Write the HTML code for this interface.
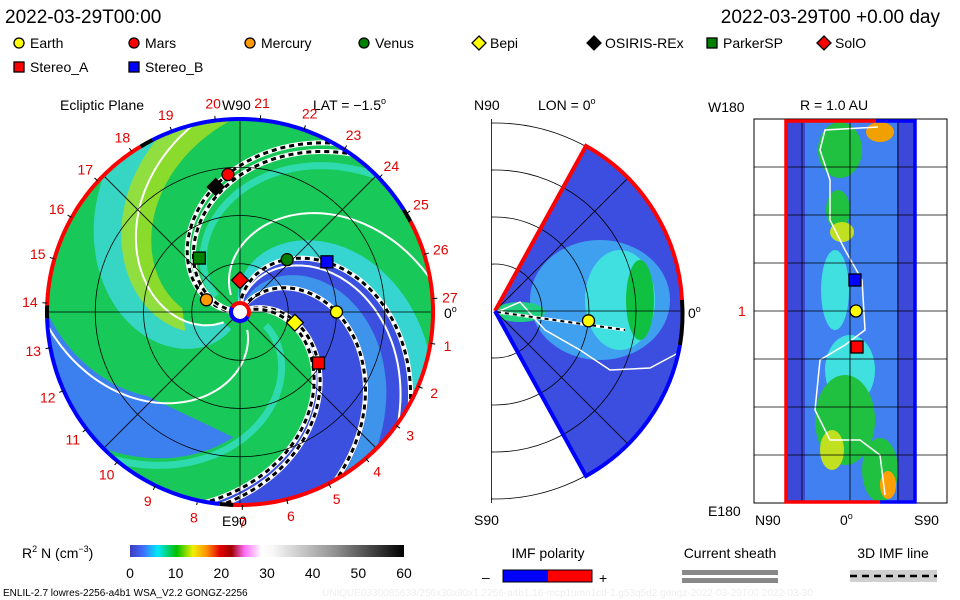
<!DOCTYPE html>
<html><head><meta charset="utf-8"><style>
body{margin:0;background:#fff;}
svg{display:block;font-family:"Liberation Sans",sans-serif;}
</style></head><body>
<svg id="s" width="960" height="600" viewBox="0 0 960 600">
<defs>
<linearGradient id="cb" x1="0" x2="1" y1="0" y2="0">
<stop offset="0" stop-color="#3c3cc0"/><stop offset="0.05" stop-color="#4070ff"/>
<stop offset="0.1" stop-color="#00e8ff"/><stop offset="0.17" stop-color="#00c000"/>
<stop offset="0.23" stop-color="#f0f000"/><stop offset="0.28" stop-color="#ff9000"/>
<stop offset="0.33" stop-color="#e00000"/><stop offset="0.37" stop-color="#a00000"/>
<stop offset="0.42" stop-color="#ff70ff"/><stop offset="0.48" stop-color="#ffffff"/>
<stop offset="0.52" stop-color="#f8f8f8"/><stop offset="0.75" stop-color="#909090"/>
<stop offset="1" stop-color="#000"/>
</linearGradient>
<clipPath id="eclip"><circle cx="240" cy="312" r="193"/></clipPath>
<clipPath id="wclip"><path d="M495 311 L586 146 A188 188 0 0 1 586 476 Z"/></clipPath>
<clipPath id="mclip"><rect x="491" y="119" width="200" height="384"/></clipPath>
</defs>
<text x="5" y="23" font-size="19">2022-03-29T00:00</text>
<text x="940" y="23" font-size="19" text-anchor="end">2022-03-29T00 +0.00 day</text>
<g id="legend" font-size="14"></g>
<text x="60" y="110" font-size="14">Ecliptic Plane</text>
<text x="222" y="110" font-size="14">W90</text>
<text x="313" y="110" font-size="14">LAT = −1.5<tspan font-size="9" dy="-6">o</tspan></text>
<text x="222" y="526" font-size="14">E90</text>
<text x="444" y="318" font-size="14">0<tspan font-size="9" dy="-6">o</tspan></text>
<g id="ecl"></g>
<text x="474" y="110" font-size="14">N90</text>
<text x="538" y="110" font-size="14">LON = 0<tspan font-size="9" dy="-6">o</tspan></text>
<text x="474" y="525" font-size="14">S90</text>
<text x="688" y="318" font-size="14">0<tspan font-size="9" dy="-6">o</tspan></text>
<g id="mer"></g>
<text x="800" y="110" font-size="14">R = 1.0 AU</text>
<text x="708" y="112" font-size="14">W180</text>
<text x="708" y="516" font-size="14">E180</text>
<text x="738" y="316" font-size="14" fill="#e00">1</text>
<text x="755" y="525" font-size="14">N90</text>
<text x="840" y="525" font-size="14">0<tspan font-size="9" dy="-6">o</tspan></text>
<text x="914" y="525" font-size="14">S90</text>
<g id="rad"></g>
<text x="22" y="558" font-size="14">R<tspan font-size="9" dy="-6">2</tspan><tspan dy="6"> N (cm</tspan><tspan font-size="9" dy="-6">−3</tspan><tspan dy="6">)</tspan></text>
<rect x="130" y="545" width="274" height="12" fill="url(#cb)"/>
<g id="cbt" font-size="14" text-anchor="middle"></g>
<text x="548" y="558" font-size="14" text-anchor="middle">IMF polarity</text>
<text x="482" y="582" font-size="14">–</text>
<rect x="503" y="570" width="45" height="12" fill="#0000ff"/>
<rect x="548" y="570" width="44" height="12" fill="#ff0000"/>
<rect x="503" y="570" width="89" height="12" fill="none" stroke="#000"/>
<text x="599" y="583" font-size="14">+</text>
<text x="730" y="558" font-size="14" text-anchor="middle">Current sheath</text>
<rect x="682" y="570" width="96" height="5" fill="#888"/>
<rect x="682" y="578" width="96" height="5" fill="#888"/>
<text x="893" y="558" font-size="14" text-anchor="middle">3D IMF line</text>
<rect x="850" y="570" width="87" height="12" fill="#d0d0d0"/>
<line x1="850" y1="576" x2="937" y2="576" stroke="#000" stroke-width="2.5" stroke-dasharray="7,5"/>
<text x="3" y="596" font-size="10">ENLIL-2.7 lowres-2256-a4b1 WSA_V2.2 GONGZ-2256</text>
<text x="322" y="596" font-size="10" fill="#eee">UNIQUE0330085633/256x30x90x1.2256-a4b1.16-mcp1umn1cd-1.g53q5d2.gongz-2022-03-29T00    2022-03-30</text>
</svg>
<script>
// ---- data ----
const legendNames=["Earth","Mars","Mercury","Venus","Bepi","OSIRIS-REx","ParkerSP","SolO","Stereo_A","Stereo_B"];
const legendColors=["#ffff00","#ff0000","#ff9900","#008000","#ffff00","#000000","#008000","#ff0000","#ff0000","#0000ff"];
const legendShapes=["circle","circle","circle","circle","diamond","diamond","square","diamond","square","square"];
const bodyR=[1.0,1.43,0.37,0.73,0.58,1.32,0.70,0.33,0.97,1.04];     // AU
const bodyLon=[0,95,160,48,-11,101,127,90,-33,30];                  // deg
const dayLabels=[1,2,3,4,5,6,7,8,9,10,11,12,13,14,15,16,17,18,19,20,21,22,23,24,25,26,27];
const imfLines=[181,175,92,60,25,20];      // spiral footpoint angles (dashed field lines)
const sheetLines=[224,-56,130,85];          // current sheet lines
const cbTicks=[0,10,20,30,40,50,60];
// ----
const NS="http://www.w3.org/2000/svg";
function mk(tag,attrs,parent){const e=document.createElementNS(NS,tag);for(const k in attrs)e.setAttribute(k,attrs[k]);parent.appendChild(e);return e;}
const CX=240,CY=312,AU=96.5,OM=60;
function pt(r,a){const t=a*Math.PI/180;return [CX+r*AU*Math.cos(t),CY-r*AU*Math.sin(t)];}
function spiral(t0,r0,r1){const p=[];for(let r=r0;r<=r1+1e-6;r+=0.02)p.push(pt(r,t0-OM*r));return p;}
function pstr(p){return p.map(q=>q[0].toFixed(1)+","+q[1].toFixed(1)).join(" ");}
function marker(g,shape,color,x,y,s){
  let e;
  if(shape==="circle")e=mk("circle",{cx:x,cy:y,r:s,fill:color,stroke:"#000","stroke-width":1.3},g);
  else if(shape==="square")e=mk("rect",{x:x-s,y:y-s,width:2*s,height:2*s,fill:color,stroke:"#000","stroke-width":1.3},g);
  else e=mk("polygon",{points:`${x},${y-s*1.4} ${x+s*1.4},${y} ${x},${y+s*1.4} ${x-s*1.4},${y}`,fill:color,stroke:"#000","stroke-width":1.3},g);
  return e;
}
// legend
const lg=document.getElementById("legend");
const lx=[13,128,244,358,473,588,706,818,13,128],ly=[48,48,48,48,48,48,48,48,72,72];
legendNames.forEach((n,i)=>{
  const m=marker(lg,legendShapes[i],legendColors[i],lx[i]+6,ly[i]-5,5);
  
  
  const t=mk("text",{x:lx[i]+17,y:ly[i]},lg);t.textContent=n;
  
  
});
// ecliptic
const eg=document.getElementById("ecl");
const cg=mk("g",{"clip-path":"url(#eclip)"},eg);
mk("circle",{cx:CX,cy:CY,r:193,fill:"#18c858"},cg);
function band(a,b,r0,r1,fill,op){
  const A=spiral(a,r0,r1),B=spiral(b,r0,r1).reverse();
  const arcP=[];const ea=a-OM*r1,eb=b-OM*r1;
  for(let t=ea;t>=eb;t-=2)arcP.push(pt(2.6,t));
  arcP.push(pt(2.6,eb));
  return mk("polygon",{points:pstr(A.concat(arcP,B)),fill:fill,opacity:op},cg);
}
band(255,225,0.2,2.1,"#40d8e0",0.8);
band(-15,-60,1.3,2.1,"#3c80f0",1);
band(235,212,0.6,2.1,"#a8e020",0.8);
band(92,20,0,2.1,"#3c50e0",1);
band(108,92,0,2.1,"#40d8f0",0.8);
band(75,62,0.1,2.1,"#40c0f0",0.6);
[165,-10].forEach(a=>{mk("polyline",{points:pstr(spiral(a,0.3,2.1)),fill:"none",stroke:"#40e8e8","stroke-width":7,opacity:0.6},cg);});
sheetLines.forEach(a=>{const e=mk("polyline",{points:pstr(spiral(a,0.2,2.1)),fill:"none",stroke:"#fff","stroke-width":2},cg);
 });
imfLines.forEach(a=>{const p=pstr(spiral(a,0.05,2.1));
 mk("polyline",{points:p,fill:"none",stroke:"#fff","stroke-width":5},cg);
 const d=mk("polyline",{points:p,fill:"none",stroke:"#000","stroke-width":3,"stroke-dasharray":"5,4"},cg);
 });
// grid
[0.5,1,1.5].forEach(r=>mk("circle",{cx:CX,cy:CY,r:r*AU,fill:"none",stroke:"#000","stroke-width":0.8},cg));
for(let a=0;a<180;a+=45){const p1=pt(2.1,a),p2=pt(2.1,a+180);mk("line",{x1:p1[0],y1:p1[1],x2:p2[0],y2:p2[1],stroke:"#000","stroke-width":0.8},cg);}
// rim
function arc(a0,a1,col){const p=[];for(let a=a0;a<=a1;a+=1)p.push(pt(2,a));return mk("polyline",{points:pstr(p),fill:"none",stroke:col,"stroke-width":4},eg);}
arc(-93,28,"#ff0000");arc(28,32,"#000");arc(32,117,"#0000ff");arc(117,121,"#000");arc(121,178,"#ff0000");arc(178,182,"#000");arc(182,264,"#0000ff");arc(264,268,"#000");
// day labels
dayLabels.forEach((d,i)=>{const a=4+(27-d)*360/27;const p=pt(2.18,a);const q=pt(2.0,a),q2=pt(2.05,a);
 mk("line",{x1:q[0],y1:q[1],x2:q2[0],y2:q2[1],stroke:"#000"},eg);
 const t=mk("text",{x:p[0],y:p[1]+5,"font-size":14,fill:"#e00000","text-anchor":"middle"},eg);t.textContent=d;
 });
// sun
mk("circle",{cx:CX,cy:CY,r:9,fill:"#fff",stroke:"#ff0000","stroke-width":4},eg);
mk("path",{d:`M${CX-9} ${CY} A9 9 0 0 0 ${CX+9} ${CY}`,fill:"none",stroke:"#0000ff","stroke-width":4,transform:`rotate(30 ${CX} ${CY})`},eg);
// bodies
legendNames.forEach((n,i)=>{const p=pt(bodyR[i],bodyLon[i]);
 const m=marker(eg,legendShapes[i],legendColors[i],p[0],p[1],6);
 });
// meridional panel
const mg=document.getElementById("mer");
const MX=495,MY=311;
mk("rect",{x:491,y:119,width:0.8,height:384,fill:"#000"},mg);
const mcg=mk("g",{"clip-path":"url(#mclip)"},mg);
[47,94,141,188].forEach(r=>mk("circle",{cx:MX,cy:MY,r:r,fill:"none",stroke:"#000","stroke-width":0.8},mcg));
const wc=mk("g",{"clip-path":"url(#wclip)"},mg);
mk("rect",{x:490,y:140,width:200,height:340,fill:"#3c4ee0"},wc);
mk("ellipse",{cx:600,cy:300,rx:70,ry:60,fill:"#40a0f0"},wc);
mk("ellipse",{cx:620,cy:300,rx:35,ry:50,fill:"#40e0e0"},wc);
mk("ellipse",{cx:640,cy:300,rx:14,ry:40,fill:"#10c040"},wc);
mk("ellipse",{cx:520,cy:312,rx:25,ry:10,fill:"#20d080"},wc);
[47,94,141].forEach(r=>mk("circle",{cx:MX,cy:MY,r:r,fill:"none",stroke:"#000","stroke-width":0.8},wc));
[45,-45].forEach(a=>{const t=a*Math.PI/180;mk("line",{x1:MX,y1:MY,x2:MX+200*Math.cos(t),y2:MY-200*Math.sin(t),stroke:"#000","stroke-width":0.8},wc);});
mk("line",{x1:MX,y1:MY,x2:683,y2:MY,stroke:"#000","stroke-width":0.8},mg);
mk("polyline",{points:"497,312 520,302 545,330 580,350 610,370 650,368 680,352",fill:"none",stroke:"#fff","stroke-width":1.5},wc);
mk("line",{x1:497,y1:312,x2:625,y2:330,stroke:"#fff","stroke-width":3},mg);
mk("line",{x1:497,y1:312,x2:625,y2:330,stroke:"#000","stroke-width":2,"stroke-dasharray":"4,4"},mg);
mk("path",{d:"M495 311 L586 146 A188 188 0 0 1 682 300",fill:"none",stroke:"#ff0000","stroke-width":4},mg);
mk("path",{d:"M682 300 A188 188 0 0 1 680 345",fill:"none",stroke:"#000","stroke-width":4},mg);
mk("path",{d:"M680 345 A188 188 0 0 1 586 476 L495 311",fill:"none",stroke:"#0000ff","stroke-width":4},mg);
const me=marker(mg,"circle","#ffff00",MX+bodyR[0]*94*Math.cos(-6*Math.PI/180),MY+bodyR[0]*94*Math.sin(6*Math.PI/180),6);

// radial panel
const rg=document.getElementById("rad");
mk("rect",{x:754,y:119,width:193,height:384,fill:"#fff",stroke:"#000"},rg);
mk("rect",{x:786,y:121,width:129,height:381,fill:"#3c48d8"},rg);
mk("rect",{x:805,y:121,width:92,height:381,fill:"#4080f0"},rg);
[[840,150,22,28,"#20c040"],[880,132,14,10,"#f0a000"],[838,210,12,20,"#20c040"],[842,232,12,10,"#c0e020"],[835,290,14,40,"#40e0e0"],
 [850,370,25,35,"#40e0e0"],[845,420,30,45,"#20c040"],[832,450,12,20,"#c0e020"],[880,470,18,32,"#20c040"],[888,485,8,14,"#ffa000"]]
 .forEach(e=>mk("ellipse",{cx:e[0],cy:e[1],rx:e[2],ry:e[3],fill:e[4]},rg));
mk("polyline",{points:"878,127 825,130 820,150 830,180 830,220 845,250 862,280 865,330 845,345 820,360 815,410 830,440 860,440 880,455 885,495",fill:"none",stroke:"#fff","stroke-width":1.5},rg);
[167,215,263,311,359,407,455].forEach(y=>mk("line",{x1:754,y1:y,x2:947,y2:y,stroke:"#000","stroke-width":0.8},rg));
[802,850,898].forEach(x=>mk("line",{x1:x,y1:119,x2:x,y2:503,stroke:"#000","stroke-width":0.8},rg));
mk("polyline",{points:"876,121 786,121 786,502 880,502",fill:"none",stroke:"#ff0000","stroke-width":3.5},rg);
mk("polyline",{points:"876,121 915,121 915,502 880,502",fill:"none",stroke:"#0000ff","stroke-width":3.5},rg);
[["square","#0000ff",855,280],["circle","#ffff00",856,311],["square","#ff0000",857,347]].forEach((m,i)=>{
 const e=marker(rg,m[0],m[1],m[2],m[3],6);});
// colorbar ticks
const cbt=document.getElementById("cbt");
cbTicks.forEach(v=>{const t=mk("text",{x:130+v*274/60,y:578},cbt);t.textContent=v;
 });
</script>
</body></html>
